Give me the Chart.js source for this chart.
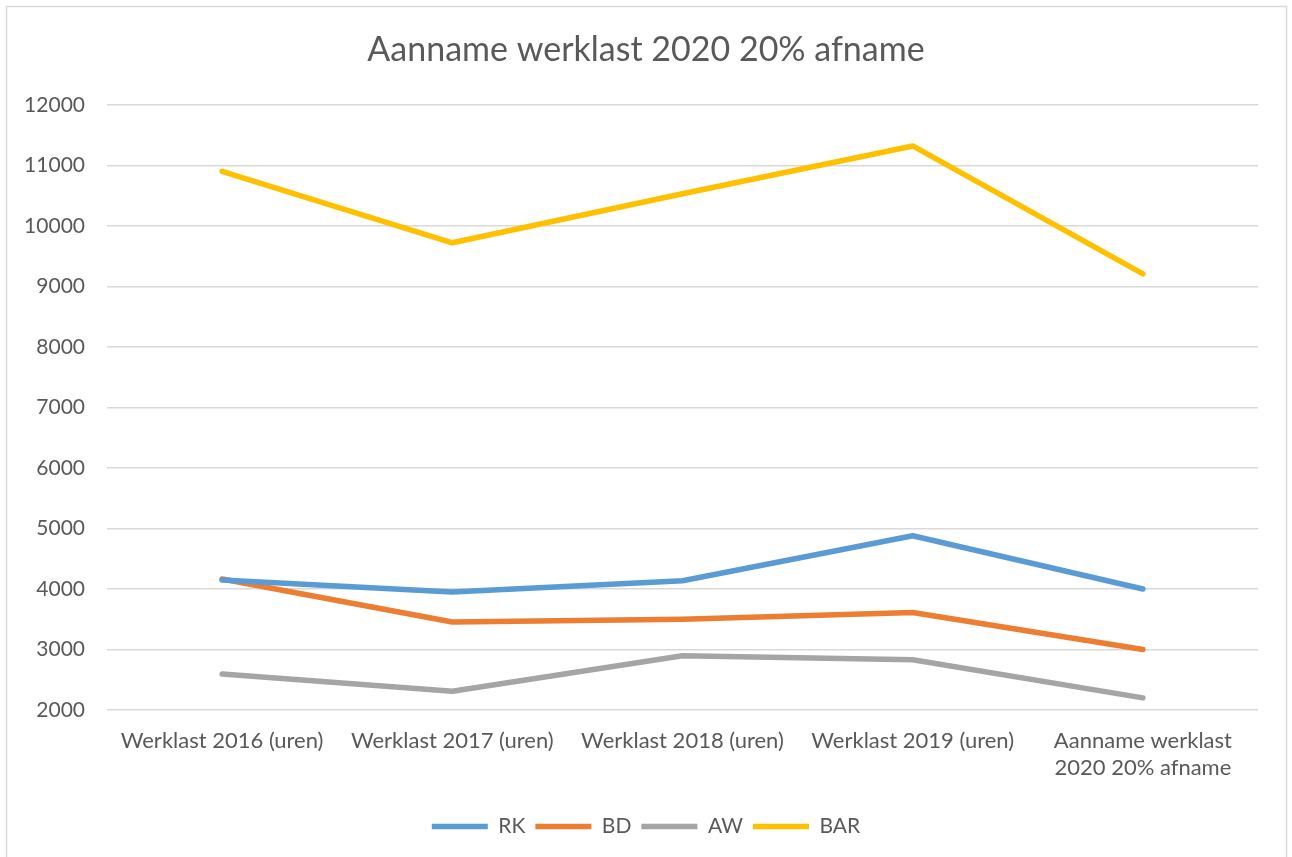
<!DOCTYPE html>
<html>
<head>
<meta charset="utf-8">
<script src="https://cdn.jsdelivr.net/npm/chart.js@4.4.1/dist/chart.umd.min.js"></script>
<style>
  html, body { margin: 0; padding: 0; background: #ffffff; }
  #wrap { position: relative; width: 1292px; height: 857px; }
</style>
</head>
<body>
<div id="wrap"><canvas id="chart"></canvas></div>
<script>
  // Chart data
  const categories = [
    'Werklast 2016 (uren)',
    'Werklast 2017 (uren)',
    'Werklast 2018 (uren)',
    'Werklast 2019 (uren)',
    ['Aanname werklast', '2020 20% afname'],
  ];
  const rkValues = [4150, 3950, 4135, 4880, 4000];
  const bdValues = [4165, 3455, 3500, 3610, 3000];
  const awValues = [2595, 2310, 2895, 2830, 2200];
  const barValues = [10900, 9720, 10530, 11320, 9205];
  const yTicks = { min: 2000, max: 12000, step: 1000 };

  const FONT = "Lato, 'Open Sans', sans-serif";
  const TEXT = '#595959';
  const GRID = '#d9d9d9';

  function series(label, data, color) {
    return {
      label: label,
      data: data,
      borderColor: color,
      backgroundColor: color,
      borderWidth: 5.5,
      borderCapStyle: 'round',
      borderJoinStyle: 'round',
      pointRadius: 0,
      pointHoverRadius: 0,
      tension: 0,
      fill: false,
    };
  }

  // white background and thin frame round the whole chart
  const frame = {
    id: 'frame',
    beforeDraw(chart) {
      const ctx = chart.ctx;
      ctx.save();
      ctx.fillStyle = '#ffffff';
      ctx.fillRect(0, 0, chart.width, chart.height);
      ctx.strokeStyle = GRID;
      ctx.lineWidth = 1.5;
      ctx.strokeRect(6.5, 6.5, 1280, 900);
      ctx.restore();
    },
  };

  new Chart(document.getElementById('chart'), {
    type: 'line',
    data: {
      labels: categories,
      datasets: [
        series('RK', rkValues, '#5B9BD5'),
        series('BD', bdValues, '#ED7D31'),
        series('AW', awValues, '#A5A5A5'),
        series('BAR', barValues, '#FFC000'),
      ],
    },
    options: {
      responsive: true,
      maintainAspectRatio: false,
      animation: false,
      layout: { padding: { left: 0, right: 0, top: 0, bottom: 10 } },
      plugins: {
        title: {
          display: true,
          text: 'Aanname werklast 2020 20% afname',
          color: TEXT,
          font: { family: FONT, size: 34, weight: 'normal' },
          padding: { top: 30, bottom: 34 },
        },
        legend: {
          position: 'bottom',
          labels: {
            color: TEXT,
            font: { family: FONT, size: 21 },
            usePointStyle: true,
            pointStyle: 'line',
            pointStyleWidth: 56,
            padding: 10,
          },
        },
        tooltip: { enabled: false },
      },
      scales: {
        x: {
          offset: true,
          grid: { display: false, drawTicks: false },
          border: { display: false },
          ticks: {
            color: TEXT,
            font: { family: FONT, size: 22 },
            padding: 18,
            maxRotation: 0,
            autoSkip: false,
          },
          afterFit(scale) { scale.height = 96; },
        },
        y: {
          min: yTicks.min,
          max: yTicks.max,
          grid: { color: GRID, lineWidth: 1.5, drawTicks: false },
          border: { display: false },
          ticks: {
            stepSize: yTicks.step,
            color: TEXT,
            font: { family: FONT, size: 21 },
            padding: 22,
            callback: (v) => String(v),
          },
          afterFit(scale) { scale.width = 107; },
        },
        // empty right-hand axis: only reserves the margin on the right
        yRight: {
          position: 'right',
          min: yTicks.min,
          max: yTicks.max,
          grid: { display: false, drawTicks: false },
          border: { display: false },
          ticks: { display: false },
          afterFit(scale) { scale.width = 34; },
        },
      },
    },
    plugins: [frame],
  });
</script>
</body>
</html>
